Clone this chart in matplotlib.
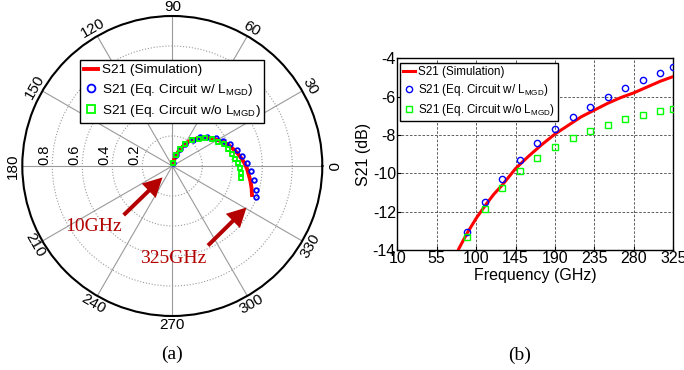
import numpy as np
import matplotlib
matplotlib.use('Agg')
import matplotlib.pyplot as plt
from matplotlib.patches import FancyArrowPatch

plt.rcParams['font.family'] = ['Liberation Sans', 'DejaVu Sans']
plt.rcParams['mathtext.default'] = 'regular'
plt.rcParams['axes.unicode_minus'] = False

# marker frequencies (GHz)
freq_pts = [10, 30, 50, 70, 90, 110, 130, 150, 170, 190, 210, 230, 250, 270, 290, 310, 325]
# Eq. circuit w/ L_MGD
blue_db = [-33.5, -22.3, -18.1, -15.4, -13.04, -11.51, -10.31, -9.30, -8.43, -7.69,
           -7.08, -6.52, -6.02, -5.55, -5.15, -4.75, -4.47]
blue_deg = [78, 72, 65, 59, 52, 46, 40, 32.7, 26.4, 20.4, 13.7, 7.9, 2.3, -3.6, -9.9, -15.8, -20.1]
# Eq. circuit w/o L_MGD
green_db = [-33.6, -22.4, -18.3, -15.5, -13.30, -11.88, -10.77, -9.88, -9.19, -8.61,
            -8.14, -7.77, -7.46, -7.17, -6.96, -6.77, -6.64]
green_deg = [78, 72, 65, 59, 52, 46, 40.4, 33.7, 28, 22.8, 17.3, 11.6, 6.7, 2.7, -1.7, -5.8, -9.5]
# simulation
freq_sim = [10, 30, 50, 70, 80, 90, 100, 110, 120, 130, 145, 160, 175, 190, 205, 220,
            235, 250, 265, 280, 295, 310, 325]
sim_db = [-33, -22.5, -18, -15.2, -13.95, -13.1, -12.35, -11.7, -11.1, -10.6, -9.75, -9.1,
          -8.5, -7.95, -7.5, -7.05, -6.7, -6.35, -6.05, -5.8, -5.5, -5.2, -4.95]
sim_deg = [78, 72, 65, 59, 55.5, 52, 49, 46, 43, 40, 34.5, 29.5, 25, 20.4, 15.5, 10.8,
           6.5, 2.3, -2, -6.5, -11, -15.8, -20]

polar_angles = [0, 30, 60, 90, 120, 150, 180, 210, 240, 270, 300, 330]
radial_ticks = [0.2, 0.4, 0.6, 0.8]
x_ticks = [10, 55, 100, 145, 190, 235, 280, 325]
y_ticks = [-14, -12, -10, -8, -6, -4]

lbl_sim = 'S21 (Simulation)'
lbl_w = 'S21 (Eq. Circuit w/ L$_{MGD}$)'
lbl_wo = 'S21 (Eq. Circuit w/o L$_{MGD}$)'

RED = '#ff0000'
BLUE = '#0000ff'
GREEN = '#00ff00'
DARKRED = '#b40000'

W, H = 684, 370
fig = plt.figure(figsize=(W / 100, H / 100), dpi=100)

def mag(db):
    return 10 ** (np.array(db) / 20.0)

# ---------- (a) polar ----------
cx, cy, R = 172.3, 166, 150
ax = fig.add_axes([(cx - R) / W, 1 - (cy + R) / H, 2 * R / W, 2 * R / H], projection='polar')
ax.plot(np.radians(sim_deg), mag(sim_db), color=RED, lw=2.8, label=lbl_sim, zorder=3)
ax.plot(np.radians(blue_deg), mag(blue_db), 'o', ls='none', mfc='none', mec=BLUE,
        ms=3.3, mew=1.3, label=lbl_w, zorder=4)
ax.plot(np.radians(green_deg), mag(green_db), 's', ls='none', mfc='none', mec=GREEN,
        ms=3.0, mew=1.3, label=lbl_wo, zorder=5)
ax.set_rlim(0, 1)
ax.set_rgrids(radial_ticks, labels=[''] * len(radial_ticks))
ax.set_thetagrids(polar_angles, labels=[''] * len(polar_angles))
ax.xaxis.grid(True, color='#9a9a9a', ls='-', lw=0.8)
ax.yaxis.grid(True, color='#9a9a9a', ls=':', lw=0.8)
ax.spines['polar'].set_linewidth(1.5)
ax.spines['polar'].set_color('black')
for a in polar_angles:
    rot = a - 90
    if rot > 90:
        rot -= 180
    ax.text(np.radians(a), 1.06, str(a), rotation=rot, ha='center', va='center',
            rotation_mode='anchor', fontsize=11, clip_on=False)
for v in radial_ticks:
    x, y = -(v + 0.05), 0.075
    ax.text(np.arctan2(y, x), np.hypot(x, y), '%.1f' % v, rotation=90, ha='center',
            va='center', fontsize=10.5)
leg = ax.legend(loc='upper left', bbox_to_anchor=(80 / W, 1 - 60 / H),
                bbox_transform=fig.transFigure, fontsize=9.7, frameon=True, fancybox=False,
                framealpha=1, edgecolor='black', handlelength=1.0, handletextpad=0.3,
                borderpad=0.3, labelspacing=0.38, borderaxespad=0, markerscale=1.7)
leg.get_frame().set_linewidth(1.0)

def px(x, y):
    return (x / W, 1 - y / H)

for (x0, y0), (x1, y1) in [((121.7, 217), (164.5, 175.5)), ((206, 247.5), (248.5, 205.5))]:
    arr = FancyArrowPatch(px(x0, y0), px(x1, y1), transform=fig.transFigure,
                          arrowstyle='simple,head_width=1.2,head_length=1.15,tail_width=0.24',
                          mutation_scale=12, color=DARKRED, lw=0)
    fig.patches.append(arr)
fig.text(*px(94, 227), '10GHz', family='Liberation Serif', color=DARKRED, fontsize=14,
         ha='center', va='center')
fig.text(*px(173.3, 258.5), '325GHz', family='Liberation Serif', color=DARKRED, fontsize=14,
         ha='center', va='center')
fig.text(*px(172, 354), '(a)', family='Liberation Serif', fontsize=14, ha='center', va='center')

# ---------- (b) S21 magnitude ----------
l, r, t, b = 397.3, 673.3, 58.3, 250
bx = fig.add_axes([l / W, 1 - b / H, (r - l) / W, (b - t) / H])
bx.plot(freq_sim, sim_db, color=RED, lw=2.2, label=lbl_sim, zorder=3)
bx.plot(freq_pts, blue_db, 'o', ls='none', mfc='none', mec=BLUE, ms=4.5, mew=1.0,
        label=lbl_w, zorder=4)
bx.plot(freq_pts, green_db, 's', ls='none', mfc='none', mec=GREEN, ms=4.2, mew=1.0,
        label=lbl_wo, zorder=4)
bx.set_xlim(10, 325)
bx.set_ylim(-14, -4)
bx.set_xticks(x_ticks)
bx.set_yticks(y_ticks)
bx.tick_params(direction='in', labelsize=11.5, length=3, pad=1)
bx.grid(True, color='#444444', ls=(0, (3, 2)), lw=0.6)
for s in bx.spines.values():
    s.set_linewidth(1.0)
bx.set_xlabel('Frequency (GHz)', fontsize=11.5, labelpad=1)
bx.set_ylabel('S21 (dB)', fontsize=11.5, labelpad=1)
leg2 = bx.legend(loc='upper left', bbox_to_anchor=(400 / W, 1 - 63.3 / H),
                 bbox_transform=fig.transFigure, fontsize=8.4, frameon=True, fancybox=False,
                 framealpha=1, edgecolor='black', handlelength=1.0, handletextpad=0.3,
                 borderpad=0.25, labelspacing=0.35, borderaxespad=0)
leg2.get_frame().set_linewidth(1.0)
fig.text(*px(519.3, 355), '(b)', family='Liberation Serif', fontsize=14, ha='center',
         va='center')

fig.savefig('out.png', dpi=100)
